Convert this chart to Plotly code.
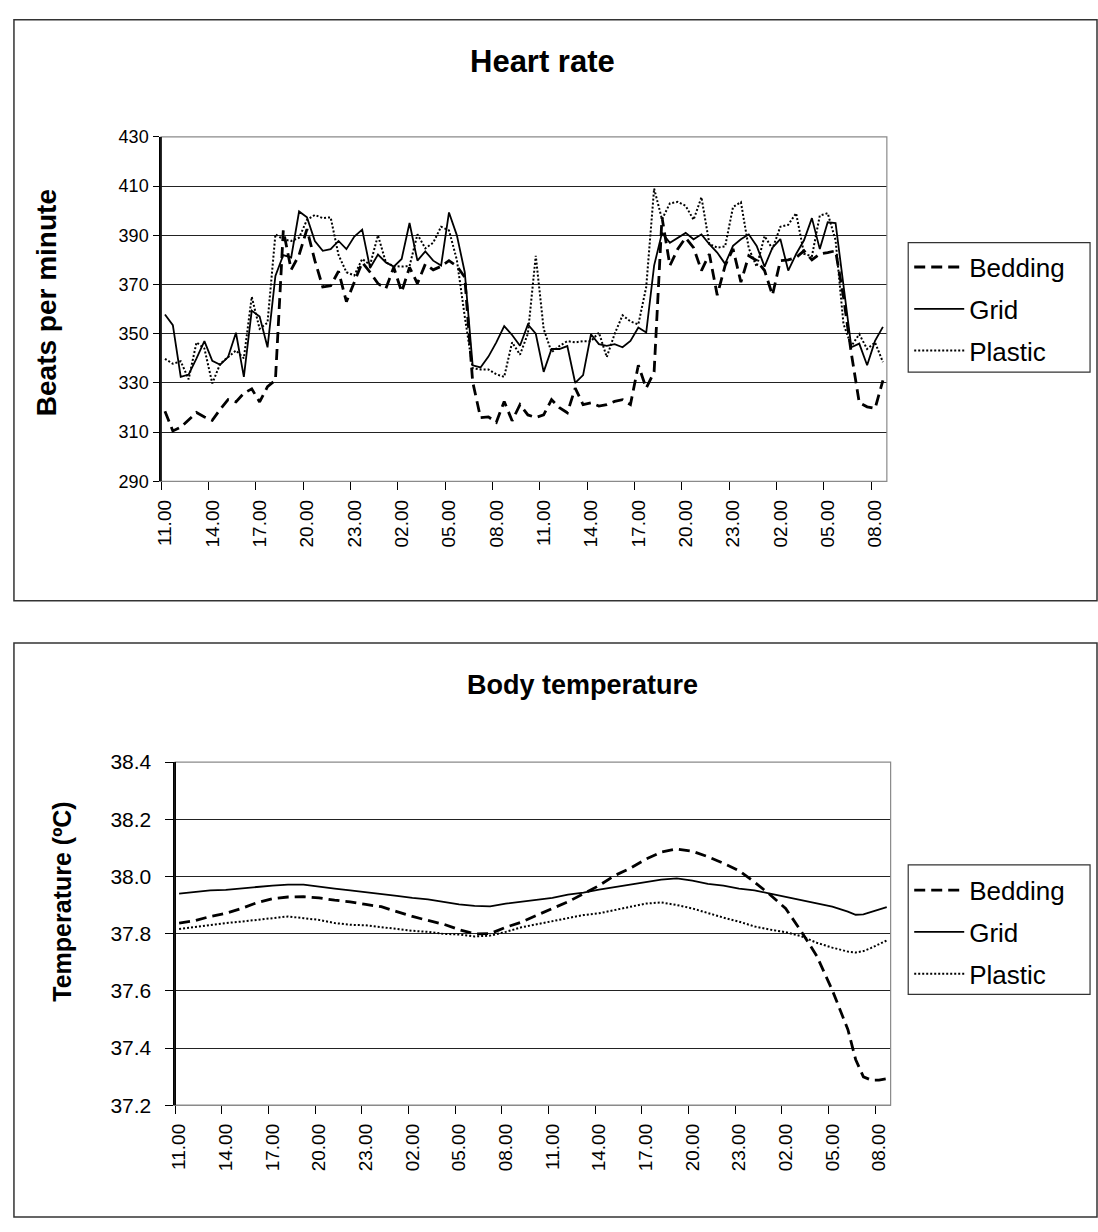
import plotly.graph_objects as go

# ---------------- data ----------------
tick_labels = ["11.00", "14.00", "17.00", "20.00", "23.00", "02.00", "05.00", "08.00",
               "11.00", "14.00", "17.00", "20.00", "23.00", "02.00", "05.00", "08.00"]

# half-hour slots 0..91 (11.00 day 1 -> 08.30 day 3)
hr_slots = list(range(92))

hr_bedding = [318.5, 310.5, 312, 314.8, 318, 316.2, 314.8, 319.3, 323.2, 322.3,
              325.8, 327.6, 322.3, 328.5, 331.1, 392, 376, 382, 392.5, 379.7,
              369, 369.5, 375.4, 363, 371.4, 379, 375, 370.4, 368.4, 377,
              367, 377, 370.4, 378.3, 376, 377.4, 379.7, 377.5, 373, 330.5,
              315.9, 316.2, 314, 322.5, 314.6, 321.2, 317, 316, 317, 323.2,
              320, 317.9, 327.9, 321.2, 321.9, 320.6, 321.2, 322.5, 323.2, 321.2,
              337.2, 327.9, 334.5, 397.3, 377.7, 384.5, 389, 385, 375.7, 382.4,
              365.7, 377.7, 384.5, 371, 381.7, 379.7, 375.7, 365.7, 379.7, 380,
              381, 383.7, 380, 382.4, 383, 383.7, 365, 342, 322, 320.3,
              319.6, 331]

hr_grid = [357.8, 353.5, 332.5, 333.4, 340, 347, 339, 337.4, 340.5, 350.4,
           332.5, 359.4, 357, 344.5, 373.5, 382, 381, 399.7, 397.3, 387.7,
           383.7, 384.4, 387.7, 384.4, 389.5, 392.3, 376.7, 382.2, 379, 377.3,
           380.4, 395, 379.7, 383.5, 379.7, 377.7, 399.3, 390, 375, 337.2,
           336.3, 340.7, 346.5, 353.1, 349.5, 345.1, 353.8, 350, 334.5, 343.8,
           343.8, 345, 330, 333.2, 349.8, 345.8, 345.1, 345.8, 344.5, 347.1,
           352.5, 350.5, 377.7, 391, 387, 389, 391, 388.4, 390.4, 386.4,
           383, 378.4, 385.7, 388.4, 390.4, 385.7, 377.3, 385, 388.5, 375.7,
           382.4, 388, 397, 384.4, 395.3, 395, 370, 344.5, 346, 337.2,
           347.1, 352.8]

hr_plastic = [339.8, 337.8, 338.8, 331.5, 346.5, 344, 329.8, 337.8, 340.5, 343.2,
              340, 365, 352, 354.5, 390.4, 388.4, 387.7, 389, 396.3, 398.3,
              397, 397.3, 382, 375, 373.7, 380.4, 378, 390, 379, 377.5,
              377.3, 377.5, 390.4, 384.7, 387, 393.5, 392, 380, 357, 336,
              335.5, 335.5, 333.5, 332.5, 346.5, 341.5, 350, 381.7, 352, 342.5,
              345, 347, 346.5, 347, 347, 350.5, 340.5, 350, 357.5, 355,
              353.8, 369, 409, 396.5, 403, 403.6, 402, 396.3, 405.5, 386.5,
              385, 385.5, 401.5, 403.5, 384.7, 377.3, 389.7, 384.5, 393.5, 394.3,
              399, 382.5, 381.5, 398, 399, 388, 354, 345, 349.8, 343.8,
              346.5, 338.5]

# body temperature read at hourly slots (plus a few extra near the end)
t_slots = [0, 2, 4, 6, 8, 10, 12, 14, 16, 18, 20, 22, 24, 26, 28, 30, 32, 34, 36, 38,
           40, 42, 44, 46, 48, 50, 52, 54, 56, 58, 60, 62, 64, 66, 68, 70, 72, 74, 76, 78,
           80, 82, 84, 86, 87, 88, 89, 90, 91]

t_bedding = [37.837, 37.845, 37.860, 37.871, 37.888, 37.908, 37.922, 37.928, 37.929, 37.925,
             37.917, 37.911, 37.902, 37.894, 37.877, 37.860, 37.846, 37.833, 37.814, 37.799,
             37.800, 37.822, 37.840, 37.865, 37.888, 37.911, 37.940, 37.968, 38.003, 38.028,
             38.060, 38.085, 38.096, 38.088, 38.069, 38.046, 38.020, 37.980, 37.936, 37.888,
             37.808, 37.722, 37.602, 37.465, 37.360, 37.299, 37.288, 37.288, 37.293]

t_grid = [37.940, 37.945, 37.951, 37.953, 37.959, 37.963, 37.968, 37.971, 37.971, 37.963,
          37.957, 37.951, 37.945, 37.940, 37.932, 37.925, 37.920, 37.911, 37.902, 37.897,
          37.895, 37.905, 37.911, 37.917, 37.925, 37.936, 37.943, 37.954, 37.963, 37.971,
          37.982, 37.989, 37.993, 37.985, 37.974, 37.968, 37.957, 37.951, 37.940, 37.928,
          37.917, 37.905, 37.894, 37.877, 37.866, 37.867, 37.876, 37.886, 37.893]

t_plastic = [37.816, 37.823, 37.831, 37.837, 37.842, 37.848, 37.854, 37.860, 37.854, 37.848,
             37.837, 37.831, 37.829, 37.822, 37.816, 37.810, 37.806, 37.799, 37.797, 37.790,
             37.793, 37.806, 37.822, 37.833, 37.845, 37.856, 37.865, 37.871, 37.882, 37.894,
             37.905, 37.909, 37.900, 37.888, 37.871, 37.856, 37.842, 37.825, 37.814, 37.805,
             37.791, 37.768, 37.751, 37.737, 37.734, 37.739, 37.750, 37.762, 37.776]

series_names = ["Bedding", "Grid", "Plastic"]

# ---------------- page geometry ----------------
W, H = 1098, 1232
FONT = "Liberation Sans, Arial, sans-serif"
styles = {
    "Bedding": dict(color="black", width=2.8, dash="11px,6px"),
    "Grid": dict(color="black", width=1.8, dash="solid"),
    "Plastic": dict(color="black", width=2.0, dash="2px,2px"),
}


def px(x):
    """page x pixel -> paper fraction"""
    return x / W


def py(y):
    """page y pixel -> paper fraction"""
    return 1 - y / H


fig = go.Figure()

for name, vals in zip(series_names, [hr_bedding, hr_grid, hr_plastic]):
    fig.add_trace(go.Scatter(x=hr_slots, y=vals, mode="lines", name=name,
                             line=styles[name], xaxis="x", yaxis="y",
                             legend="legend", legendgroup="hr" + name))

for name, vals in zip(series_names, [t_bedding, t_grid, t_plastic]):
    fig.add_trace(go.Scatter(x=t_slots, y=vals, mode="lines", name=name,
                             line=styles[name], xaxis="x2", yaxis="y2",
                             legend="legend2", legendgroup="t" + name))

tickpos = [-0.5 + 6 * k for k in range(len(tick_labels))]

xcommon = dict(range=[-0.5, 91.5], tickmode="array", tickvals=tickpos, ticktext=tick_labels,
               tickangle=-90, ticks="outside", ticklen=8, tickcolor="black", tickwidth=1,
               showline=True, linecolor="#888888", linewidth=1, showgrid=False,
               zeroline=False, ticklabelshift=4, ticklabelstandoff=2,
               tickfont=dict(family=FONT, size=19, color="black"))

ycommon = dict(showline=True, linecolor="black", linewidth=1.5, ticks="outside",
               tickcolor="black", showgrid=True, gridcolor="#222222", gridwidth=1,
               zeroline=False)

legend_common = dict(xanchor="left", yanchor="top", borderwidth=0,
                     bgcolor="rgba(0,0,0,0)", font=dict(family=FONT, size=26, color="black"),
                     tracegroupgap=5, itemwidth=50, traceorder="grouped")

fig.update_layout(
    width=W, height=H, margin=dict(l=0, r=0, t=0, b=0),
    paper_bgcolor="white", plot_bgcolor="white",
    font=dict(family=FONT, color="black"),
    xaxis=dict(domain=[px(155), px(885.5)], anchor="y", **xcommon),
    yaxis=dict(domain=[py(478.3), py(127.3)], anchor="x", range=[290, 430], dtick=20,
               tick0=290, ticklen=6, ticklabelstandoff=1,
               tickfont=dict(family=FONT, size=18, color="black"), **ycommon),
    xaxis2=dict(domain=[px(169.3), px(889.3)], anchor="y2", **xcommon),
    yaxis2=dict(domain=[py(1114), py(764.3)], anchor="x2", range=[37.2, 38.4], dtick=0.2,
                tick0=37.2, tickformat=".1f", ticklen=8, ticklabelstandoff=10,
                tickfont=dict(family=FONT, size=21, color="black"), **ycommon),
    legend=dict(x=px(908), y=py(236), **legend_common),
    legend2=dict(x=px(908), y=py(871), **legend_common),
    showlegend=True,
)

# outer chart boxes, legend boxes and plot-area borders
box_line = dict(color="#333333", width=1.5)
fig.add_shape(type="rect", xref="paper", yref="paper", x0=px(7), x1=px(1097),
              y0=py(600), y1=py(8), line=box_line, layer="below")
fig.add_shape(type="rect", xref="paper", yref="paper", x0=px(7), x1=px(1097),
              y0=py(1228), y1=py(643), line=box_line, layer="below")
fig.add_shape(type="rect", xref="paper", yref="paper", x0=px(907), x1=px(1090),
              y0=py(367), y1=py(235), line=dict(color="#333333", width=1.2), layer="below")
fig.add_shape(type="rect", xref="paper", yref="paper", x0=px(907), x1=px(1090),
              y0=py(1001), y1=py(869), line=dict(color="#333333", width=1.2), layer="below")
fig.add_shape(type="rect", xref="x domain", yref="y domain", x0=0, x1=1, y0=0, y1=1,
              line=dict(color="#8a8a8a", width=1.2), layer="above")
fig.add_shape(type="rect", xref="x2 domain", yref="y2 domain", x0=0, x1=1, y0=0, y1=1,
              line=dict(color="#8a8a8a", width=1.2), layer="above")
fig.add_shape(type="line", xref="x domain", yref="y domain", x0=0, x1=0, y0=0, y1=1,
              line=dict(color="black", width=1.5), layer="above")
fig.add_shape(type="line", xref="x2 domain", yref="y2 domain", x0=0, x1=0, y0=0, y1=1,
              line=dict(color="black", width=1.5), layer="above")

fig.add_annotation(text="<b>Heart rate</b>", x=px(539), y=py(50), xref="paper", yref="paper",
                   showarrow=False, xanchor="center", yanchor="middle",
                   font=dict(family=FONT, size=31, color="black"))
fig.add_annotation(text="<b>Body temperature</b>", x=px(579), y=py(686), xref="paper", yref="paper",
                   showarrow=False, xanchor="center", yanchor="middle",
                   font=dict(family=FONT, size=27, color="black"))
fig.add_annotation(text="<b>Beats per minute</b>", x=px(40), y=py(296), xref="paper", yref="paper",
                   showarrow=False, textangle=-90, xanchor="center", yanchor="middle",
                   font=dict(family=FONT, size=28, color="black"))
fig.add_annotation(text="<b>Temperature (ºC)</b>", x=px(55), y=py(907), xref="paper", yref="paper",
                   showarrow=False, textangle=-90, xanchor="center", yanchor="middle",
                   font=dict(family=FONT, size=25, color="black"))

fig.write_html("out.html")
